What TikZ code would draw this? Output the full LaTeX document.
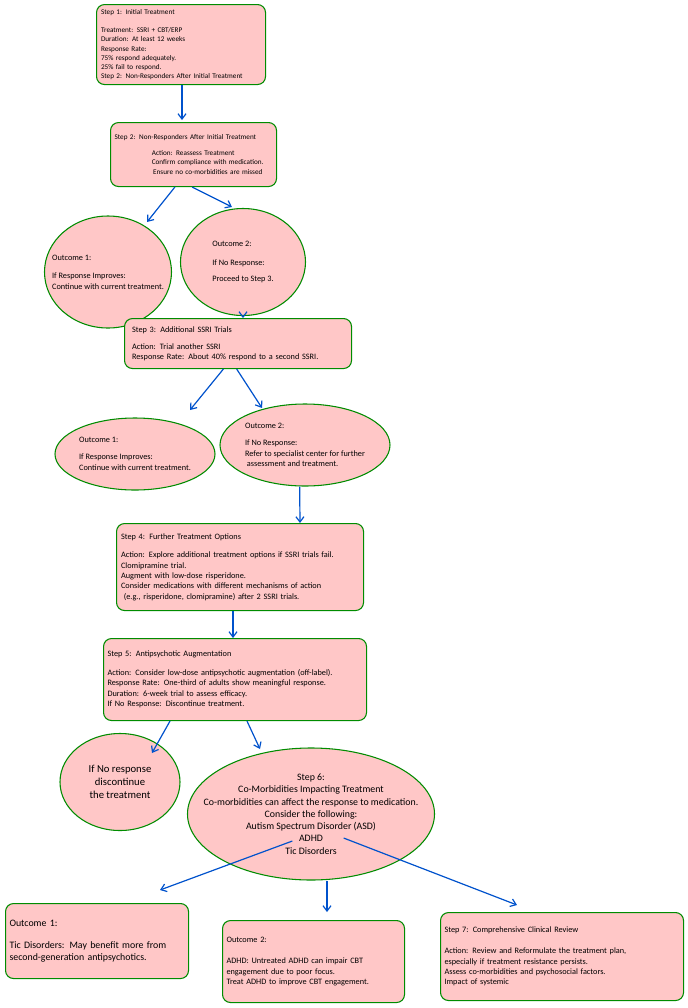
\documentclass[tikz,border=0pt]{standalone}
\usepackage{fontspec}
\setmainfont{Carlito}
\usetikzlibrary{shapes.geometric,arrows.meta}
\tikzset{
  box/.style={draw=green!55!black, fill=red!22, rounded corners=6pt, line width=0.8pt, anchor=north west, inner sep=3pt, align=left},
  oval/.style={ellipse, draw=green!55!black, fill=red!22, line width=0.8pt, inner sep=-30pt, align=left},
  flow/.style={->, >={Straight Barb[length=4pt,width=6pt]}, draw=blue!60!cyan!80!black, line width=0.9pt},
  tinytxt/.style={font=\fontsize{5.4}{6.9}\selectfont},
  smalltxt/.style={font=\fontsize{6.2}{7.8}\selectfont},
  midtxt/.style={font=\fontsize{7.4}{9.2}\selectfont},
  bigtxt/.style={font=\fontsize{8}{9.6}\selectfont}
}
\begin{document}
\begin{tikzpicture}[x=0.75pt, y=-0.75pt]
\useasboundingbox (0,0) rectangle (688,1008);

\node[box, tinytxt, minimum width=169*0.75pt, minimum height=80*0.75pt, text width=160*0.75pt] (s1) at (96,4)
  {Step 1: Initial Treatment\\[6.9pt] Treatment: SSRI + CBT/ERP\\ Duration: At least 12 weeks\\ Response Rate:\\ 75\% respond adequately.\\ 25\% fail to respond.\\ Step 2: Non-Responders After Initial Treatment};
\node[box, tinytxt, minimum width=164*0.75pt, minimum height=64*0.75pt, text width=158*0.75pt] (s2) at (110,122)
  {Step 2: Non-Responders After Initial Treatment\\[5pt]
   \hspace*{28pt}Action: Reassess Treatment\\ \hspace*{28pt}Confirm compliance with medication.\\ \hspace*{29pt}Ensure no co-morbidities are missed};

\node[oval, smalltxt, minimum width=127*0.75pt, minimum height=112*0.75pt] (o1a) at (108,272)
  {Outcome 1:\\[6pt] If Response Improves:\\ Continue with current treatment.};
\node[oval, smalltxt, minimum width=125*0.75pt, minimum height=107*0.75pt] (o2a) at (243,262)
  {Outcome 2:\\[6pt] If No Response:\\[4pt] Proceed to Step 3.};

\node[box, smalltxt, minimum width=227*0.75pt, minimum height=50*0.75pt, text width=212*0.75pt] (s3) at (124,318)
  {Step 3: Additional SSRI Trials\\[5pt] Action: Trial another SSRI\\ Response Rate: About 40\% respond to a second SSRI.};

\node[oval, smalltxt, minimum width=160*0.75pt, minimum height=72*0.75pt] (o1b) at (135,454)
  {Outcome 1:\\[5pt] If Response Improves:\\ Continue with current treatment.};
\node[oval, smalltxt, minimum width=170*0.75pt, minimum height=82*0.75pt] (o2b) at (305,445)
  {Outcome 2:\\[5pt] If No Response:\\ Refer to specialist center for further\\ \ assessment and treatment.};

\node[box, smalltxt, minimum width=247*0.75pt, minimum height=87*0.75pt, text width=238*0.75pt] (s4) at (116,523)
  {Step 4: Further Treatment Options\\[6pt] Action: Explore additional treatment options if SSRI trials fail.\\ Clomipramine trial.\\ Augment with low-dose risperidone.\\ Consider medications with different mechanisms of action\\ \ (e.g., risperidone, clomipramine) after 2 SSRI trials.};

\node[box, smalltxt, minimum width=263*0.75pt, minimum height=82*0.75pt, text width=255*0.75pt] (s5) at (103,638)
  {Step 5: Antipsychotic Augmentation\\[6pt] Action: Consider low-dose antipsychotic augmentation (off-label).\\ Response Rate: One-third of adults show meaningful response.\\ Duration: 6-week trial to assess efficacy.\\ If No Response: Discontinue treatment.};

\node[oval, bigtxt, minimum width=120*0.75pt, minimum height=97*0.75pt, align=center] (o6a) at (120,782)
  {If No response\\ discontinue\\ the treatment};
\node[oval, midtxt, minimum width=247*0.75pt, minimum height=132*0.75pt, align=center] (s6) at (311,814)
  {Step 6:\\ Co-Morbidities Impacting Treatment\\ Co-morbidities can affect the response to medication.\\ Consider the following:\\ Autism Spectrum Disorder (ASD)\\ ADHD\\ Tic Disorders};

\node[box, midtxt, minimum width=181*0.75pt, minimum height=75*0.75pt, text width=175*0.75pt] (o1c) at (5,903)
  {Outcome 1:\\[7pt] Tic Disorders: May benefit more from\\ second-generation antipsychotics.};
\node[box, smalltxt, minimum width=180*0.75pt, minimum height=82*0.75pt, text width=174*0.75pt] (o2c) at (222,920)
  {Outcome 2:\\[8pt] ADHD: Untreated ADHD can impair CBT\\ engagement due to poor focus.\\ Treat ADHD to improve CBT engagement.};
\node[box, smalltxt, minimum width=243*0.75pt, minimum height=88*0.75pt, text width=235*0.75pt] (s7) at (440,912)
  {Step 7: Comprehensive Clinical Review\\[8pt] Action: Review and Reformulate the treatment plan,\\ especially if treatment resistance persists.\\ Assess co-morbidities and psychosocial factors.\\ Impact of systemic};

% connectors
\coordinate (e1) at (182,120);
\coordinate (e2) at (147,222);
\coordinate (e3) at (232,207);
\coordinate (e4) at (190,410);
\coordinate (e5) at (262,408);
\coordinate (e6) at (152,753);
\coordinate (e7) at (260,749);
\coordinate (e8) at (160,890);
\coordinate (e9) at (327,912);
\coordinate (e10) at (517,905);
\draw[flow] (s1.south -| e1) -- (e1);
\draw[flow] ([xshift=-14pt]s2.south) -- (e2);
\draw[flow] ([xshift=-1pt]s2.south) -- (e3);
\draw[flow] (o2a.south) -- (s3.north -| o2a.south);
\draw[flow] ([xshift=-11pt]s3.south) -- (e4);
\draw[flow] ([xshift=-1pt]s3.south) -- (e5);
\draw[flow] ([xshift=-4pt]o2b.south) -- (s4.north -| 300,0);
\draw[flow] (s4.south -| 233,0) -- (s5.north -| 233,0);
\draw[flow] (s5.south -| 170,0) -- (e6);
\draw[flow] (s5.south -| 247,0) -- (e7);
\draw[flow] (s6.south west) ++(69,-20) -- (e8);
\draw[flow] ([xshift=12pt]s6.south) -- (e9);
\draw[flow] (s6.south east) ++(-55,-23) -- (e10);
\end{tikzpicture}
\end{document}
